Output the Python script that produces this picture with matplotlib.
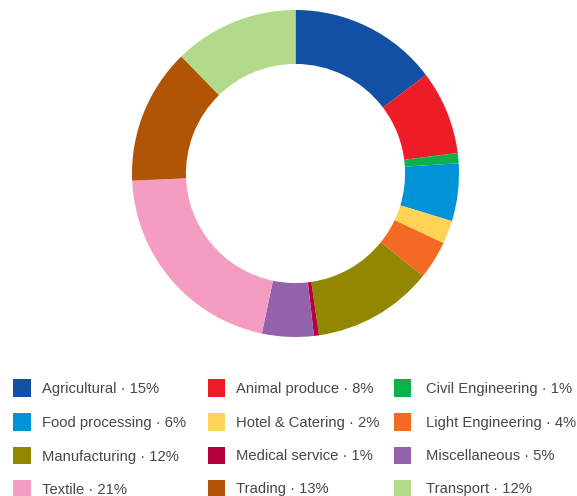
import matplotlib
matplotlib.use('Agg')
import matplotlib.pyplot as plt
from matplotlib.patches import Rectangle

sectors = ['Agricultural', 'Animal produce', 'Civil Engineering', 'Food processing',
           'Hotel & Catering', 'Light Engineering', 'Manufacturing', 'Medical service',
           'Miscellaneous', 'Textile', 'Trading', 'Transport']
shares = [14.7, 8.3, 1.0, 5.7, 2.3, 3.8, 11.9, 0.5, 5.1, 21.0, 13.4, 12.3]
colors = ['#1150a5', '#ee1c27', '#0db14b', '#0093d7', '#ffd456', '#f46a25',
          '#928700', '#b5003c', '#9262ab', '#f59cc3', '#b05506', '#b3d98b']

W, H = 577, 496
fig = plt.figure(figsize=(W / 100, H / 100), dpi=100)

# donut, clockwise from 12 o'clock
cx, cy, r = 295.5, 173.5, 163.5
ax = fig.add_axes([(cx - r) / W, 1 - (cy + r) / H, 2 * r / W, 2 * r / H])
ax.pie(shares, colors=colors, startangle=90, counterclock=False, radius=1.0,
       wedgeprops=dict(width=0.33, linewidth=0))
ax.set_xlim(-1, 1)
ax.set_ylim(-1, 1)
ax.set_aspect('equal')
ax.axis('off')

# legend in three columns below the ring
col_x = [13, 207.5, 393.5]
text_x = [41.7, 236, 425.7]
row_y = [388, 422, 455.5, 488.5]
box = 17.5
for i, (name, val, c) in enumerate(zip(sectors, shares, colors)):
    x = col_x[i % 3]
    y = row_y[i // 3]
    fig.patches.append(Rectangle((x / W, 1 - (y + box / 2) / H), box / W, box / H,
                                 transform=fig.transFigure, facecolor=c,
                                 edgecolor='none'))
    pct = int(val + 0.5)
    fig.text(text_x[i % 3] / W, 1 - (y + 1) / H, f'{name} \u00b7 {pct}%',
             ha='left', va='center', fontsize=10.6, color='#474747',
             family='Liberation Sans')

fig.savefig('out.png', dpi=100)
